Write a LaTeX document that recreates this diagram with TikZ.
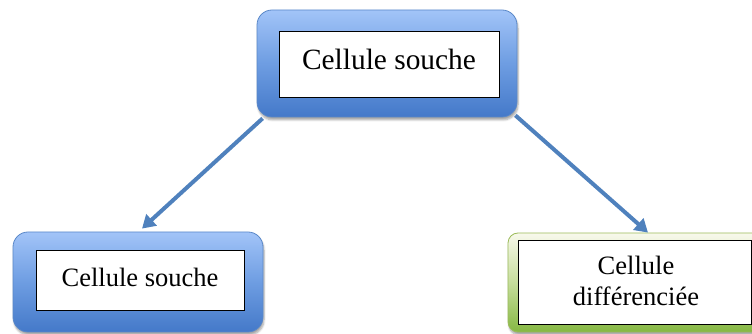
\documentclass[tikz,border=0pt]{standalone}
\usepackage{fontspec}
\setmainfont{Liberation Serif}
\usetikzlibrary{arrows.meta,shadows.blur,calc}
\definecolor{blueT}{HTML}{A2C4F8}
\definecolor{blueM}{HTML}{6E9DE2}
\definecolor{blueB}{HTML}{4479C9}
\definecolor{blueLine}{HTML}{5A88C8}
\definecolor{arrowBlue}{HTML}{4F81BD}
\definecolor{greenT}{HTML}{F8F9EC}
\definecolor{greenM}{HTML}{C6DD9C}
\definecolor{greenB}{HTML}{86B843}
\definecolor{greenLine}{HTML}{9BBB59}
\tikzset{
  bluebox/.style={rectangle, rounded corners=15pt, draw=blueLine, line width=0.8pt,
    top color=blueT, bottom color=blueB, middle color=blueM,
    blur shadow={shadow xshift=1pt, shadow yshift=-3pt, shadow blur steps=6, shadow opacity=35},
    minimum width=#1, inner sep=0pt},
  greenbox/.style={rectangle, rounded corners=10pt, draw=greenLine, line width=0.8pt,
    top color=greenT, bottom color=greenB, middle color=greenM,
    blur shadow={shadow xshift=1pt, shadow yshift=-3pt, shadow blur steps=6, shadow opacity=35},
    minimum width=#1, inner sep=0pt},
  whitebox/.style={rectangle, draw=black, line width=1pt, fill=white, inner sep=0pt},
  toptext/.style={anchor=base, inner sep=0pt, font=\fontsize{29.4}{31}\selectfont},
  bottext/.style={anchor=base, inner sep=0pt, font=\fontsize{26.5}{31}\selectfont},
  conn/.style={draw=arrowBlue, line width=4pt, -{Triangle[width=15pt,length=13pt]}}
}
\begin{document}
\begin{tikzpicture}[x=1pt,y=1pt]
\useasboundingbox (0,0) rectangle (752,334);
% top
\node[bluebox=260pt, minimum height=107pt] (top) at (387,270.5) {};
\node[whitebox, minimum width=220pt, minimum height=66pt] (topin) at (389,269) {};
\node[toptext] (toptxt) at (389,264) {Cellule souche};
% bottom left
\node[bluebox=250pt, minimum height=100pt] (bl) at (138,52) {};
\node[whitebox, minimum width=208pt, minimum height=60pt] (blin) at (140,53) {};
\node[bottext] (bltxt) at (140,47) {Cellule souche};
% bottom right
\node[greenbox=254pt, minimum height=99pt] (gr) at (635,51.5) {};
\node[whitebox, minimum width=233pt, minimum height=84pt] (grin) at (634.5,51) {};
\node[bottext] (grtxt1) at (636,59) {Cellule};
\node[bottext] (grtxt2) at (636,28) {différenciée};
% arrows
\draw[conn] ([xshift=6pt,yshift=-1pt]top.south west) -- ([xshift=4pt,yshift=3pt]bl.north);
\draw[conn] ([xshift=-2pt,yshift=2pt]top.south east) -- ([xshift=13pt,yshift=0pt]gr.north);
\end{tikzpicture}
\end{document}
